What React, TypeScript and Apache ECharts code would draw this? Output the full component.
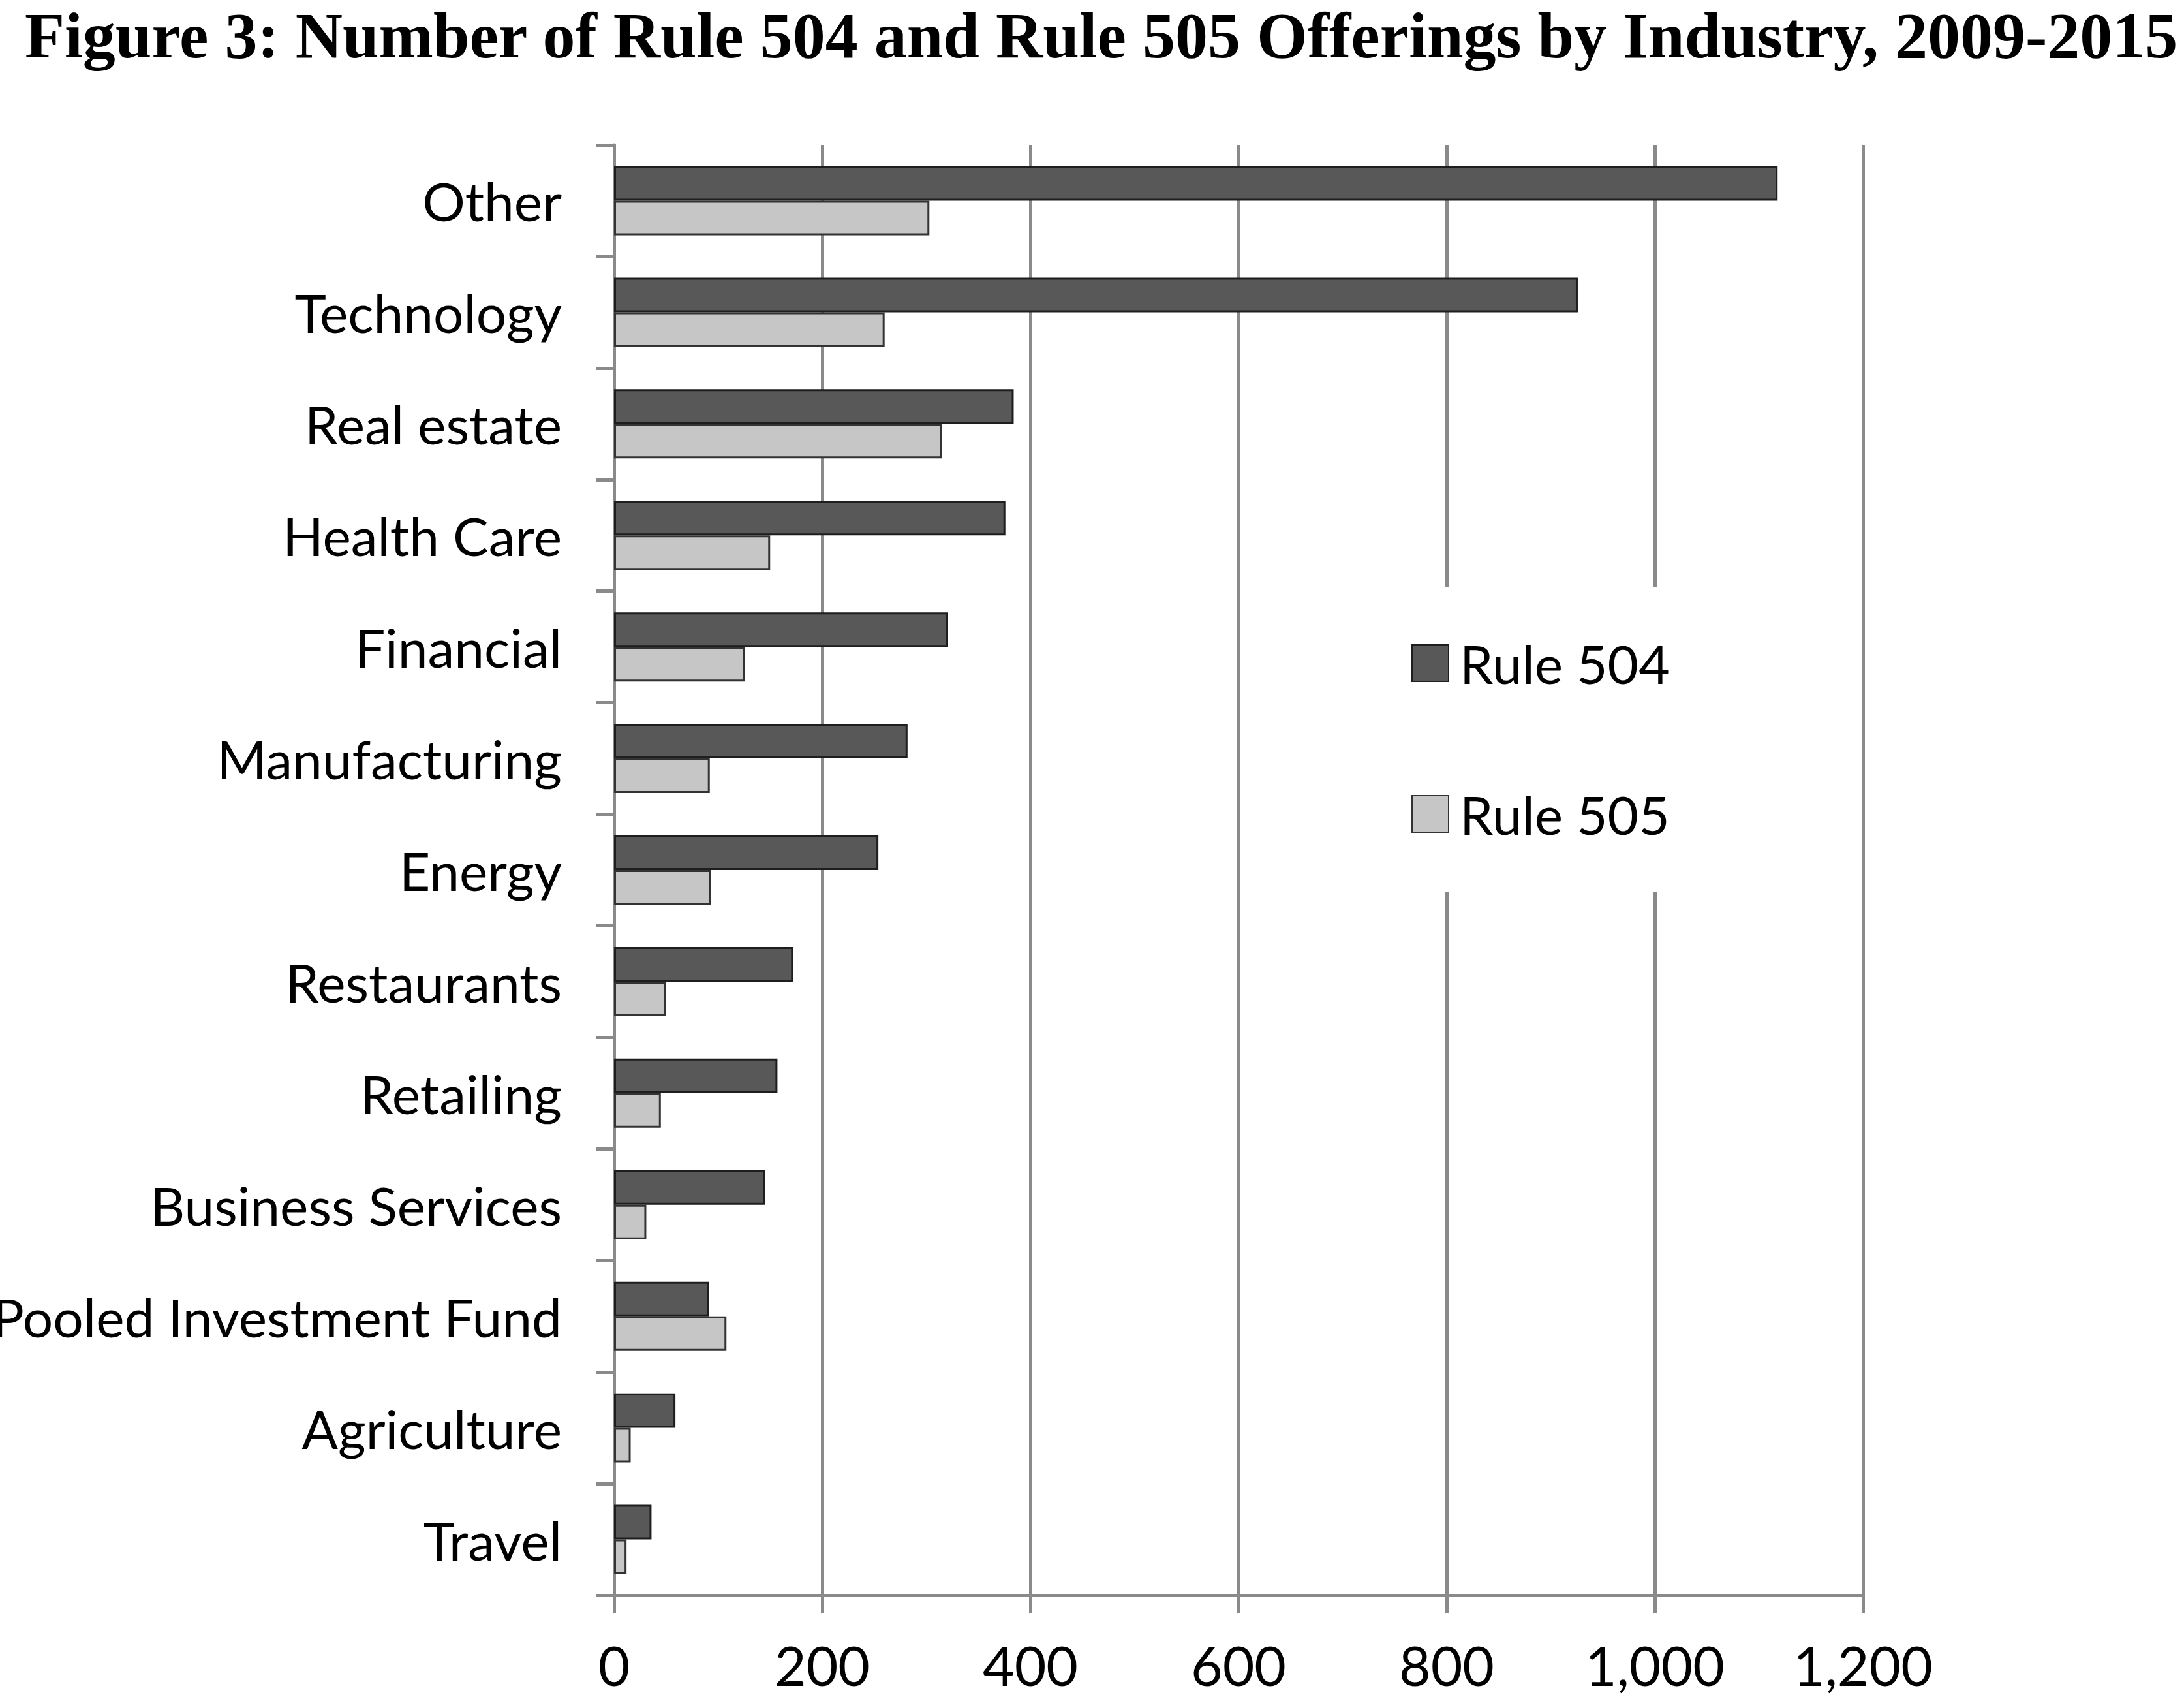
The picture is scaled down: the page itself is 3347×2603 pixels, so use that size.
import { useEffect, useRef } from 'react';
import * as echarts from 'echarts';

const categories = [
  'Other',
  'Technology',
  'Real estate',
  'Health Care',
  'Financial',
  'Manufacturing',
  'Energy',
  'Restaurants',
  'Retailing',
  'Business Services',
  'Pooled Investment Fund',
  'Agriculture',
  'Travel',
];
const rule504 = [1118, 926, 384, 376, 321, 282, 254, 172, 157, 145, 91, 59, 36];
const rule505 = [303, 260, 315, 150, 126, 92, 93, 50, 45, 31, 108, 16, 12];
const seriesNames = ['Rule 504', 'Rule 505'];

const FONT = 'Lato';
const GRID_GRAY = '#8a8a8a';

export default function App() {
  const chartRef = useRef<HTMLDivElement>(null);

  useEffect(() => {
    if (!chartRef.current) return;
    const chart = echarts.init(chartRef.current, undefined, { renderer: 'svg' });

    const option: echarts.EChartsOption = {
      animation: false,
      backgroundColor: '#ffffff',
      title: {
        text: 'Figure 3: Number of Rule 504 and Rule 505 Offerings by Industry, 2009-2015',
        left: 38,
        top: 4,
        padding: 0,
        textStyle: {
          fontFamily: 'Liberation Serif',
          fontWeight: 'bold',
          fontSize: 100,
          color: '#000',
        },
      },
      legend: {
        orient: 'vertical',
        left: 2123,
        top: 899,
        padding: [76, 60, 78, 40],
        itemGap: 149,
        itemWidth: 56,
        itemHeight: 56,
        icon: 'rect',
        backgroundColor: '#ffffff',
        data: seriesNames,
        textStyle: {
          fontFamily: FONT,
          fontSize: 82,
          color: '#000',
          padding: [0, 0, 0, 12],
        },
      },
      grid: {
        left: 941,
        top: 222,
        right: 492,
        bottom: 159,
        containLabel: false,
        outerBoundsMode: 'none',
      } as any,
      xAxis: {
        type: 'value',
        min: 0,
        max: 1200,
        interval: 200,
        axisLine: { show: true, lineStyle: { color: GRID_GRAY, width: 5 } },
        axisTick: { show: true, inside: false, length: 28, lineStyle: { color: GRID_GRAY, width: 5 } },
        splitLine: { show: true, lineStyle: { color: GRID_GRAY, width: 5 } },
        axisLabel: {
          fontFamily: FONT,
          fontSize: 84,
          color: '#000',
          margin: 64,
          formatter: (v: number) => v.toLocaleString('en-US'),
        },
      },
      yAxis: {
        type: 'category',
        data: categories,
        inverse: true,
        axisLine: { show: true, lineStyle: { color: GRID_GRAY, width: 5 } },
        axisTick: { show: true, inside: false, length: 28, lineStyle: { color: GRID_GRAY, width: 5 } },
        axisLabel: {
          fontFamily: FONT,
          fontSize: 82,
          color: '#000',
          margin: 80,
        },
      },
      series: [
        {
          name: seriesNames[0],
          type: 'bar',
          data: rule504,
          barGap: '0%',
          barCategoryGap: '38%',
          itemStyle: { color: '#585858', borderColor: '#1e1e1e', borderWidth: 3 },
        },
        {
          name: seriesNames[1],
          type: 'bar',
          data: rule505,
          barGap: '0%',
          barCategoryGap: '38%',
          itemStyle: { color: '#c6c6c6', borderColor: '#333333', borderWidth: 3 },
        },
      ],
    };

    chart.setOption(option);
    return () => {
      chart.dispose();
    };
  }, []);

  return (
    <div
      ref={chartRef}
      style={{ position: 'absolute', left: 0, top: 0, width: '3347px', height: '2603px' }}
    />
  );
}
